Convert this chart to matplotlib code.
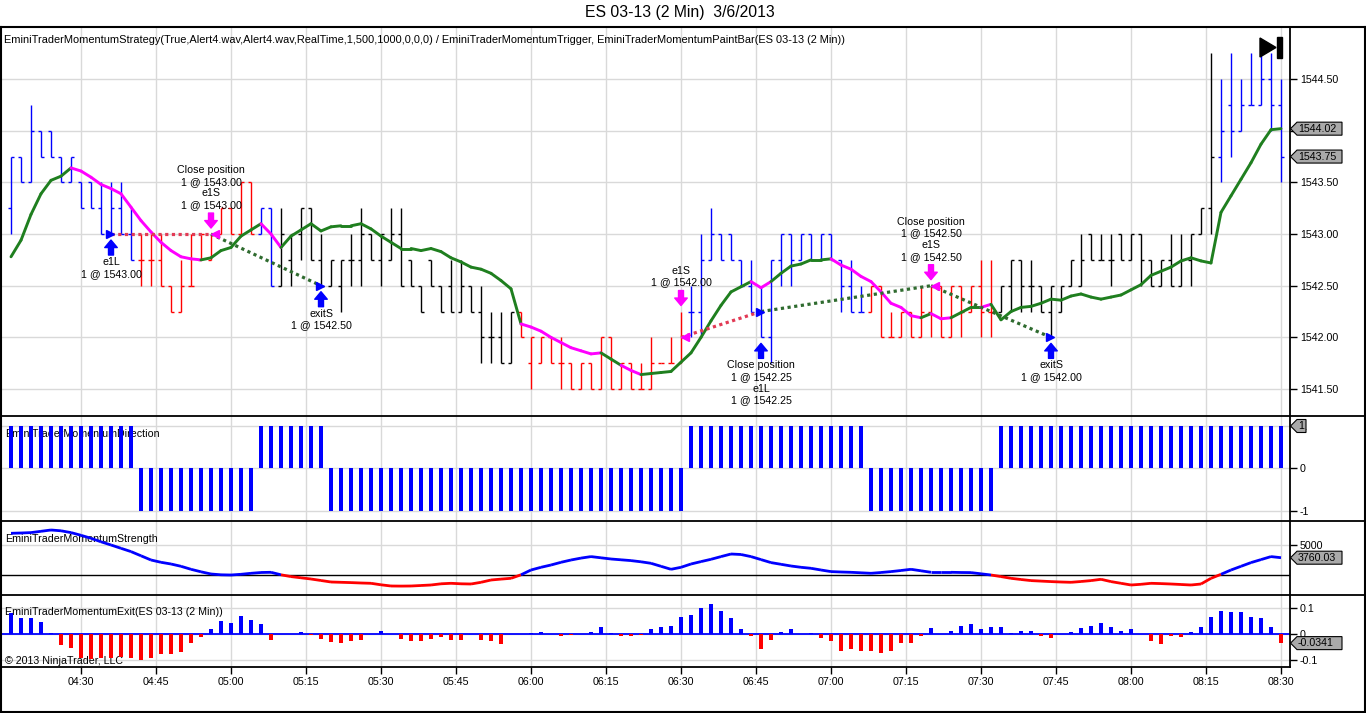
import matplotlib
matplotlib.use("Agg")
import matplotlib.pyplot as plt
from matplotlib.patches import Polygon
from matplotlib.lines import Line2D
from matplotlib.collections import LineCollection
from matplotlib.transforms import offset_copy

plt.rcParams['font.family'] = ['Liberation Sans', 'DejaVu Sans']

# ---------------- data ----------------
title = "ES 03-13 (2 Min)  3/6/2013"
header = ("EminiTraderMomentumStrategy(True,Alert4.wav,Alert4.wav,RealTime,1,500,1000,0,0,0) / "
          "EminiTraderMomentumTrigger, EminiTraderMomentumPaintBar(ES 03-13 (2 Min))")
start_time = "04:16"
bar_minutes = 2
time_ticks = ["04:30", "04:45", "05:00", "05:15", "05:30", "05:45", "06:00", "06:15",
              "06:30", "06:45", "07:00", "07:15", "07:30", "07:45", "08:00", "08:15", "08:30"]
price_ticks = [1541.50, 1542.00, 1542.50, 1543.00, 1543.50, 1544.00, 1544.50]

opens = [1543.25, 1543.75, 1543.50, 1544.00, 1544.00, 1543.75, 1543.50, 1543.50, 1543.50, 1543.25,
         1543.00, 1543.25, 1543.00, 1542.75, 1542.75, 1542.75, 1542.50, 1542.25, 1542.50, 1542.75,
         1542.75, 1543.00, 1543.25, 1543.00, 1543.50, 1543.00, 1543.25, 1542.50, 1542.75, 1543.00,
         1543.25, 1542.75, 1542.50, 1542.50, 1542.75, 1542.75, 1543.00, 1542.75, 1542.75, 1543.00,
         1542.75, 1542.50, 1542.75, 1542.50, 1542.50, 1542.25, 1542.50, 1542.25, 1542.00, 1542.00,
         1541.75, 1542.25, 1541.75, 1541.75, 1542.00, 1541.75, 1541.75, 1541.50, 1541.75, 1541.50,
         1542.00, 1541.50, 1541.75, 1541.50, 1541.50, 1541.75, 1541.75, 1541.75, 1542.25, 1542.25,
         1542.75, 1543.00, 1543.00, 1542.75, 1542.50, 1542.25, 1542.00, 1542.75, 1543.00, 1542.75,
         1543.00, 1542.75, 1543.00, 1542.75, 1542.50, 1542.25, 1542.25, 1542.50, 1542.00, 1542.00,
         1542.25, 1542.00, 1542.25, 1542.50, 1542.00, 1542.50, 1542.25, 1542.50, 1542.25, 1542.25,
         1542.50, 1542.75, 1542.50, 1542.50, 1542.25, 1542.25, 1542.50, 1542.50, 1543.00, 1542.75,
         1542.75, 1543.00, 1542.75, 1543.00, 1542.75, 1542.50, 1542.75, 1542.50, 1542.75, 1543.00,
         1543.25, 1543.75, 1544.25, 1544.00, 1544.25, 1544.25, 1544.50, 1544.25]
highs = [1543.75, 1543.75, 1544.25, 1544.00, 1544.00, 1543.75, 1543.75, 1543.50, 1543.50, 1543.50,
         1543.50, 1543.50, 1543.25, 1543.00, 1543.00, 1543.00, 1542.50, 1542.75, 1543.00, 1543.00,
         1543.00, 1543.25, 1543.25, 1543.50, 1543.50, 1543.25, 1543.25, 1543.25, 1543.00, 1543.25,
         1543.25, 1543.00, 1542.75, 1542.75, 1543.00, 1543.25, 1543.00, 1543.00, 1543.25, 1543.25,
         1542.75, 1542.50, 1542.75, 1542.50, 1542.75, 1542.75, 1542.50, 1542.50, 1542.25, 1542.25,
         1542.25, 1542.25, 1542.00, 1542.00, 1542.00, 1542.00, 1541.75, 1541.75, 1541.75, 1542.00,
         1542.00, 1541.75, 1541.75, 1541.75, 1542.00, 1541.75, 1542.00, 1542.25, 1542.50, 1543.00,
         1543.25, 1543.00, 1543.00, 1542.75, 1542.75, 1542.50, 1542.75, 1543.00, 1543.00, 1543.00,
         1543.00, 1543.00, 1543.00, 1542.75, 1542.75, 1542.50, 1542.50, 1542.50, 1542.25, 1542.25,
         1542.25, 1542.50, 1542.50, 1542.50, 1542.50, 1542.50, 1542.50, 1542.75, 1542.75, 1542.50,
         1542.75, 1542.75, 1542.75, 1542.50, 1542.50, 1542.50, 1542.75, 1543.00, 1543.00, 1543.00,
         1543.00, 1543.00, 1543.00, 1543.00, 1542.75, 1542.75, 1543.00, 1543.00, 1543.00, 1543.25,
         1544.75, 1544.50, 1544.75, 1544.50, 1544.75, 1544.75, 1544.75, 1544.50]
lows = [1543.00, 1543.50, 1543.50, 1543.75, 1543.75, 1543.50, 1543.50, 1543.25, 1543.25, 1543.00,
        1543.00, 1543.00, 1542.75, 1542.50, 1542.50, 1542.50, 1542.25, 1542.25, 1542.50, 1542.75,
        1542.75, 1543.00, 1543.00, 1543.00, 1543.00, 1543.00, 1542.50, 1542.50, 1542.50, 1542.75,
        1542.75, 1542.50, 1542.50, 1542.25, 1542.50, 1542.50, 1542.75, 1542.50, 1542.75, 1542.50,
        1542.50, 1542.25, 1542.50, 1542.25, 1542.25, 1542.25, 1542.25, 1541.75, 1541.75, 1541.75,
        1541.75, 1542.00, 1541.50, 1541.75, 1541.75, 1541.50, 1541.50, 1541.50, 1541.50, 1541.50,
        1541.50, 1541.50, 1541.50, 1541.50, 1541.50, 1541.75, 1541.75, 1541.75, 1542.00, 1542.00,
        1542.75, 1542.75, 1542.75, 1542.50, 1542.25, 1542.00, 1541.75, 1542.50, 1542.50, 1542.75,
        1542.75, 1542.75, 1542.75, 1542.25, 1542.25, 1542.25, 1542.25, 1542.00, 1542.00, 1542.00,
        1542.00, 1542.00, 1542.00, 1542.00, 1542.00, 1542.00, 1542.25, 1542.00, 1542.00, 1542.25,
        1542.25, 1542.25, 1542.25, 1542.25, 1542.00, 1542.25, 1542.50, 1542.50, 1542.75, 1542.75,
        1542.50, 1542.75, 1542.75, 1542.50, 1542.50, 1542.50, 1542.50, 1542.50, 1542.50, 1543.00,
        1543.00, 1543.50, 1543.75, 1544.00, 1544.25, 1544.25, 1544.00, 1543.50]
closes = [1543.75, 1543.50, 1544.00, 1543.75, 1543.75, 1543.50, 1543.75, 1543.25, 1543.25, 1543.00,
          1543.25, 1543.00, 1542.75, 1542.75, 1542.75, 1542.50, 1542.25, 1542.50, 1542.50, 1543.00,
          1543.00, 1543.25, 1543.00, 1543.50, 1543.00, 1543.25, 1542.50, 1543.00, 1543.00, 1543.25,
          1542.75, 1542.50, 1542.75, 1542.75, 1542.75, 1543.00, 1542.75, 1543.00, 1543.00, 1542.50,
          1542.50, 1542.25, 1542.50, 1542.25, 1542.25, 1542.50, 1542.25, 1542.00, 1542.00, 1541.75,
          1542.25, 1542.00, 1542.00, 1542.00, 1541.75, 1541.75, 1541.50, 1541.75, 1541.50, 1542.00,
          1541.50, 1541.75, 1541.50, 1541.50, 1541.75, 1541.75, 1541.75, 1542.00, 1542.25, 1542.75,
          1543.00, 1542.75, 1542.75, 1542.50, 1542.25, 1542.00, 1542.75, 1543.00, 1542.75, 1543.00,
          1542.75, 1543.00, 1542.75, 1542.50, 1542.25, 1542.25, 1542.50, 1542.00, 1542.00, 1542.25,
          1542.00, 1542.25, 1542.50, 1542.00, 1542.50, 1542.25, 1542.50, 1542.25, 1542.25, 1542.50,
          1542.75, 1542.50, 1542.50, 1542.25, 1542.50, 1542.50, 1542.75, 1542.75, 1542.75, 1542.75,
          1542.75, 1542.75, 1543.00, 1542.75, 1542.50, 1542.75, 1542.50, 1542.75, 1543.00, 1543.25,
          1543.75, 1544.00, 1544.00, 1544.25, 1544.25, 1544.50, 1544.25, 1543.75]

# paint-bar colour runs (count, colour)
paint_runs = [(13, 'blue'), (12, 'red'), (2, 'blue'), (24, 'black'), (17, 'red'),
              (18, 'blue'), (13, 'red'), (22, 'black'), (7, 'blue')]

trigger_line = [1542.78, 1542.94, 1543.19, 1543.39, 1543.52, 1543.56, 1543.64, 1543.61, 1543.55, 1543.48,
                1543.44, 1543.39, 1543.26, 1543.13, 1543.02, 1542.92, 1542.84, 1542.78, 1542.76, 1542.75,
                1542.77, 1542.84, 1542.87, 1542.98, 1543.04, 1543.10, 1543.00, 1542.87, 1542.98, 1543.04,
                1543.10, 1543.03, 1543.07, 1543.08, 1543.08, 1543.10, 1543.05, 1542.98, 1542.92, 1542.86,
                1542.86, 1542.84, 1542.86, 1542.83, 1542.77, 1542.73, 1542.68, 1542.66, 1542.62, 1542.55,
                1542.47, 1542.13, 1542.10, 1542.06, 1542.00, 1541.95, 1541.90, 1541.87, 1541.84, 1541.85,
                1541.79, 1541.73, 1541.68, 1541.64, 1541.65, 1541.66, 1541.67, 1541.76, 1541.85, 1542.00,
                1542.16, 1542.31, 1542.44, 1542.49, 1542.54, 1542.48, 1542.54, 1542.62, 1542.69, 1542.71,
                1542.75, 1542.75, 1542.76, 1542.70, 1542.66, 1542.59, 1542.54, 1542.44, 1542.33, 1542.29,
                1542.21, 1542.19, 1542.23, 1542.18, 1542.19, 1542.24, 1542.29, 1542.29, 1542.32, 1542.17,
                1542.25, 1542.29, 1542.30, 1542.33, 1542.37, 1542.36, 1542.40, 1542.42, 1542.39, 1542.37,
                1542.39, 1542.41, 1542.46, 1542.51, 1542.60, 1542.64, 1542.68, 1542.74, 1542.77, 1542.74,
                1542.72, 1543.21, 1543.37, 1543.53, 1543.69, 1543.87, 1544.01, 1544.02]
# segments (start bar index) of the trigger line drawn in magenta
trigger_down_segments = [6, 7, 8, 9, 10, 11, 12, 13, 14, 15, 16, 17, 18, 25, 26,
                         51, 52, 53, 54, 55, 56, 57, 58, 61, 62, 74, 75,
                         82, 83, 84, 85, 86, 87, 88, 89, 90, 92, 93, 97]

direction_runs = [(13, 1), (12, -1), (7, 1), (36, -1), (18, 1), (13, -1), (29, 1)]

strength = [6200, 6230, 6270, 6400, 6530, 6450, 6270, 6000, 5700, 5350,
            5030, 4700, 4370, 3950, 3530, 3300, 3130, 2900, 2600, 2350,
            2130, 2050, 2030, 2100, 2200, 2280, 2300, 2050, 1870, 1750,
            1630, 1480, 1330, 1300, 1270, 1230, 1200, 1050, 930, 920,
            930, 980, 1030, 1150, 1200, 1150, 1130, 1300, 1530, 1620,
            1700, 2050, 2530, 2800, 3030, 3300, 3530, 3720, 3870, 3750,
            3630, 3550, 3470, 3350, 3200, 2900, 2600, 2800, 3130, 3370,
            3600, 3870, 4130, 4080, 3870, 3570, 3270, 3100, 2930, 2800,
            2700, 2530, 2370, 2330, 2300, 2250, 2200, 2280, 2370, 2480,
            2600, 2450, 2300, 2300, 2300, 2280, 2270, 2150, 2030, 1870,
            1700, 1580, 1470, 1420, 1370, 1330, 1300, 1380, 1470, 1600,
            1370, 1200, 1030, 1100, 1200, 1170, 1130, 1080, 1030, 1130,
            1700, 2100, 2530, 2900, 3270, 3570, 3870, 3760.03]
strength_level = 2000

exit_vals = [0.081, 0.062, 0.062, 0.047, 0.006, -0.041, -0.052, -0.093, -0.097, -0.093,
             -0.093, -0.086, -0.090, -0.099, -0.093, -0.077, -0.077, -0.067, -0.032, -0.009,
             0.020, 0.053, 0.045, 0.071, 0.055, 0.040, -0.022, 0.000, 0.001, 0.009,
             -0.001, -0.017, -0.029, -0.032, -0.026, -0.022, 0.000, 0.013, 0.000, -0.017,
             -0.025, -0.025, -0.017, -0.009, -0.022, -0.022, 0.000, -0.022, -0.026, -0.038,
             0.000, 0.001, 0.006, 0.010, 0.000, -0.005, -0.002, 0.000, 0.010, 0.029,
             0.006, -0.005, -0.005, -0.002, 0.020, 0.029, 0.032, 0.068, 0.075, 0.100,
             0.117, 0.090, 0.062, 0.019, -0.007, -0.056, -0.022, 0.009, 0.019, 0.000,
             0.004, -0.014, -0.025, -0.063, -0.056, -0.066, -0.063, -0.071, -0.063, -0.032,
             -0.032, -0.005, 0.023, 0.000, 0.013, 0.031, 0.040, 0.020, 0.028, 0.028,
             0.004, 0.013, 0.013, -0.005, -0.014, 0.000, 0.009, 0.023, 0.032, 0.045,
             0.029, 0.013, 0.020, 0.000, -0.025, -0.038, -0.005, -0.010, 0.009, 0.028,
             0.067, 0.090, 0.086, 0.086, 0.068, 0.062, 0.028, -0.0341]

# executions: (bar, price, side, label)
executions = [
    (10, 1543.00, 'buy', "e1L\n1 @ 1543.00"),
    (20, 1543.00, 'sell', "Close position\n1 @ 1543.00\ne1S\n1 @ 1543.00"),
    (31, 1542.50, 'buy', "exitS\n1 @ 1542.50"),
    (67, 1542.00, 'sell', "e1S\n1 @ 1542.00"),
    (75, 1542.25, 'buy', "Close position\n1 @ 1542.25\ne1L\n1 @ 1542.25"),
    (92, 1542.50, 'sell', "Close position\n1 @ 1542.50\ne1S\n1 @ 1542.50"),
    (104, 1542.00, 'buy', "exitS\n1 @ 1542.00"),
]
# trade links: (entry bar, entry price, exit bar, exit price, result)
trades = [
    (10, 1543.00, 20, 1543.00, 'loss'),
    (20, 1543.00, 31, 1542.50, 'win'),
    (67, 1542.00, 75, 1542.25, 'loss'),
    (75, 1542.25, 92, 1542.50, 'win'),
    (92, 1542.50, 104, 1542.00, 'win'),
]

# ---------------- helpers ----------------
W, H = 1366, 713
fig = plt.figure(figsize=(W / 100, H / 100), dpi=100)
fig.patch.set_facecolor('white')

PL, PR = 1, 1290
FS = 7.7
GRID = '#d9d9d9'
BLUE = '#0000ff'
RED = '#ff0000'
MAG = '#ff00ff'
GREEN = '#1f7f1f'


def rect(x0, y0, x1, y1):
    return [x0 / W, 1 - y1 / H, (x1 - x0) / W, (y1 - y0) / H]


def expand(runs):
    out = []
    for n, v in runs:
        out += [v] * n
    return out


def tmin(s):
    h, m = s.split(':')
    return int(h) * 60 + int(m)


n = len(closes)
idx = list(range(n))
tick_pos = [(tmin(t) - tmin(start_time)) / bar_minutes for t in time_ticks]
bar_colors = expand(paint_runs)
direction = expand(direction_runs)

ax_p = fig.add_axes(rect(PL, 27, PR, 416))
ax_d = fig.add_axes(rect(PL, 416, PR, 521))
ax_s = fig.add_axes(rect(PL, 521, PR, 595))
ax_e = fig.add_axes(rect(PL, 595, PR, 667))
axes = [ax_p, ax_d, ax_s, ax_e]

for ax in axes:
    ax.set_xlim(-1.0, 127.9)
    for sp in ax.spines.values():
        sp.set_visible(False)
    ax.set_xticks(tick_pos)
    ax.grid(axis='x', color=GRID, lw=1)
    ax.set_axisbelow(True)
    ax.yaxis.tick_right()
    ax.tick_params(axis='y', direction='out', length=5, width=1, pad=2, labelsize=FS, colors='black')
    ax.tick_params(axis='x', length=0, labelbottom=False)
    ax.set_facecolor('white')

# ---- price panel ----
ax_p.set_ylim(1541.239, 1545.004)
ax_p.set_yticks(price_ticks)
ax_p.set_yticklabels([f"{p:.2f}" for p in price_ticks])
ax_p.grid(axis='y', color=GRID, lw=1)

tick_w = 0.3
ax_p.vlines(idx, lows, highs, colors=bar_colors, lw=1, zorder=3)
ax_p.hlines(opens, [i - tick_w for i in idx], idx, colors=bar_colors, lw=1, zorder=3)
ax_p.hlines(closes, idx, [i + tick_w for i in idx], colors=bar_colors, lw=1, zorder=3)

segs = [[(i, trigger_line[i]), (i + 1, trigger_line[i + 1])] for i in range(n - 1)]
seg_cols = [MAG if i in trigger_down_segments else GREEN for i in range(n - 1)]
ax_p.add_collection(LineCollection(segs, colors=seg_cols, lw=2.1, zorder=4, capstyle='round'))

for b0, p0, b1, p1, res in trades:
    col = '#e23a55' if res == 'loss' else '#2f6b2f'
    ax_p.plot([b0, b1], [p0, p1], color=col, lw=2.3, ls=(0, (1, 1.1)), zorder=5)


def off(ax, dy):
    return offset_copy(ax.transData, fig=fig, x=0, y=dy, units='dots')


ARROW = 'simple,head_length=0.45,head_width=0.75,tail_width=0.3'
for b, p, side, label in executions:
    if side == 'buy':
        col = BLUE
        ax_p.plot([b - 0.15], [p], marker='>', ms=6, color=col, mec=col, zorder=6)
        anchor = lows[b]
        ax_p.annotate('', xy=(b, anchor), xycoords=off(ax_p, -6), xytext=(b, anchor),
                      textcoords=off(ax_p, -21),
                      arrowprops=dict(arrowstyle=ARROW, fc=col, ec=col, shrinkA=0, shrinkB=0,
                                      mutation_scale=12), zorder=6)
        ax_p.text(b, anchor, label, transform=off(ax_p, -23), ha='center', va='top',
                  fontsize=FS, linespacing=1.2, zorder=7)
    else:
        col = MAG
        ax_p.plot([b + 0.35], [p], marker='<', ms=6, color=col, mec=col, zorder=6)
        anchor = highs[b]
        ax_p.annotate('', xy=(b, anchor), xycoords=off(ax_p, 6), xytext=(b, anchor),
                      textcoords=off(ax_p, 21),
                      arrowprops=dict(arrowstyle=ARROW, fc=col, ec=col, shrinkA=0, shrinkB=0,
                                      mutation_scale=12), zorder=6)
        ax_p.text(b, anchor, label, transform=off(ax_p, 24), ha='center', va='bottom',
                  fontsize=FS, linespacing=1.2, zorder=7)

# ---- direction panel ----
ax_d.set_ylim(-1.243, 1.236)
ax_d.set_yticks([-1, 0, 1])
ax_d.set_yticklabels(['-1', '0', '1'])
ax_d.grid(axis='y', color=GRID, lw=1)
ax_d.bar(idx, direction, width=0.4, color=BLUE, zorder=3)
ax_d.text(0.003, 0.83, "EminiTraderMomentumDirection", transform=ax_d.transAxes,
          fontsize=FS, ha='left', va='center', zorder=2)

# ---- strength panel ----
ax_s.set_ylim(30, 7430)
ax_s.set_yticks([5000])
ax_s.set_yticklabels(['5000'])
ax_s.grid(axis='y', color=GRID, lw=1)
ax_s.axhline(strength_level, color='black', lw=1, zorder=2)
s_segs = [[(i, strength[i]), (i + 1, strength[i + 1])] for i in range(n - 1)]
s_cols = [RED if (strength[i] + strength[i + 1]) / 2 < strength_level else BLUE for i in range(n - 1)]
ax_s.add_collection(LineCollection(s_segs, colors=s_cols, lw=2, zorder=3))
ax_s.text(0.003, 0.76, "EminiTraderMomentumStrength", transform=ax_s.transAxes,
          fontsize=FS, ha='left', va='center', zorder=2)

# ---- exit panel ----
ax_e.set_ylim(-0.1263, 0.1517)
ax_e.set_yticks([-0.1, 0, 0.1])
ax_e.set_yticklabels(['-0.1', '0', '0.1'])
ax_e.grid(axis='y', color=GRID, lw=1)
ax_e.axhline(0, color=BLUE, lw=1.3, zorder=2)
ax_e.bar(idx, exit_vals, width=0.42, color=[BLUE if v >= 0 else RED for v in exit_vals], zorder=3)
ax_e.text(0.003, 0.76, "EminiTraderMomentumExit(ES 03-13 (2 Min))", transform=ax_e.transAxes,
          fontsize=FS, ha='left', va='center', zorder=2)
ax_e.text(0.003, 0.09, "\u00a9 2013 NinjaTrader, LLC", transform=ax_e.transAxes,
          fontsize=FS, ha='left', va='center', zorder=2)
ax_e.tick_params(axis='x', length=5, width=1, labelbottom=True, labelsize=FS, pad=2, colors='black')
ax_e.set_xticklabels(time_ticks)

# ---------------- frame lines ----------------


def fline(x0, y0, x1, y1, lw=1.2):
    fig.add_artist(Line2D([x0 / W, x1 / W], [1 - y0 / H, 1 - y1 / H], color='black', lw=lw,
                          transform=fig.transFigure, zorder=20))


fline(1, 27, 1365, 27, 1.5)
fline(1, 712, 1365, 712, 1.5)
fline(1, 27, 1, 712, 1.5)
fline(1365, 27, 1365, 712, 1.5)
for yy in (416, 521, 595):
    fline(1, yy, 1365, yy, 1.3)
fline(1, 667, PR, 667, 1.3)
fline(PR, 27, PR, 667, 1.3)

# ---------------- value badges ----------------


def badge(ax, val, text):
    yc = ax.transData.transform((0, val))[1]
    x0 = PR
    h = 6.5
    w = 6.0 * len(text) + 3
    pts = [(x0 + 0.5, yc), (x0 + 7, yc + h), (x0 + 7 + w, yc + h), (x0 + 7 + w, yc - h), (x0 + 7, yc - h)]
    fig.add_artist(Polygon([(px / W, py / H) for px, py in pts], closed=True, transform=fig.transFigure,
                           facecolor='#a9a9a9', edgecolor='black', lw=0.8, zorder=30))
    fig.text((x0 + 8) / W, yc / H, text, ha='left', va='center', fontsize=FS, zorder=31)


badge(ax_p, trigger_line[-1], f"{trigger_line[-1]:.2f}")
badge(ax_p, closes[-1], f"{closes[-1]:.2f}")
badge(ax_d, direction[-1], f"{direction[-1]}")
badge(ax_s, strength[-1], f"{strength[-1]:.2f}")
badge(ax_e, exit_vals[-1], f"{exit_vals[-1]:.4f}")

# ---------------- titles / icon ----------------
fig.text(680 / W, 1 - 13 / H, title, ha='center', va='center', fontsize=11.3)
fig.text(4 / W, 1 - 40 / H, header, ha='left', va='center', fontsize=7.95, zorder=25)

tri = [(1260, 38), (1260, 57), (1276, 47.5)]
fig.add_artist(Polygon([(x / W, 1 - y / H) for x, y in tri], closed=True, transform=fig.transFigure,
                       facecolor='black', edgecolor='black', zorder=25))
barr = [(1277, 37), (1282, 37), (1282, 58), (1277, 58)]
fig.add_artist(Polygon([(x / W, 1 - y / H) for x, y in barr], closed=True, transform=fig.transFigure,
                       facecolor='black', edgecolor='black', zorder=25))

fig.savefig("out.png", dpi=100)
